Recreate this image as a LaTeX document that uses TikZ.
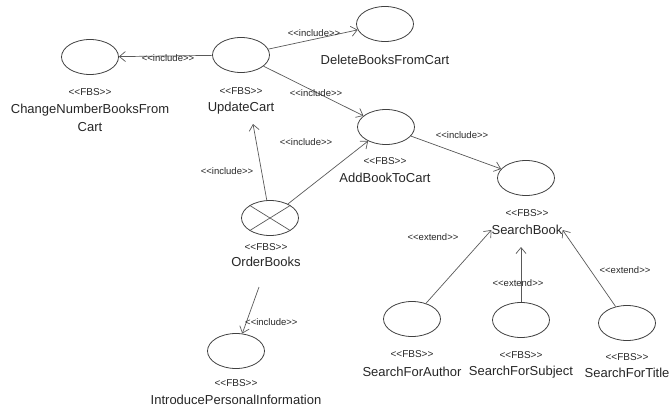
\documentclass[tikz,border=0pt]{standalone}
\usepackage{fontspec}
\setmainfont{Liberation Sans}
\usetikzlibrary{arrows.meta,shapes.geometric}
\newcommand\gl{<\kern0pt<}
\newcommand\gr{>\kern0pt>}
\begin{document}
\begin{tikzpicture}[x=1pt,y=-1pt,
  uc/.style={draw=black!75, line width=0.8pt, ellipse, minimum width=57pt, minimum height=35pt, inner sep=0pt},
  ster/.style={font=\fontsize{10}{11}\selectfont, text=black!85, inner sep=0pt},
  ucname/.style={font=\fontsize{13}{18}\selectfont, text=black!85, inner sep=0pt, align=center},
  rel/.style={draw=black!65, line width=0.7pt, -{Straight Barb[length=6pt,width=10pt]}},
  lab/.style={font=\fontsize{9.5}{10}\selectfont, text=black!85, inner sep=0pt}]
\useasboundingbox (0,0) rectangle (669,412);

% use cases
\node[uc] (cn)  at (90,57) {};
\node[uc] (upd) at (241,55) {};
\node[uc] (del) at (385,24) {};
\node[uc] (add) at (386,127) {};
\node[uc] (sb)  at (526,178) {};
\node[uc] (ob)  at (270,218) {};
\node[uc] (ipi) at (236,351) {};
\node[uc] (sfa) at (412,319) {};
\node[uc] (sfs) at (521,320) {};
\node[uc] (sft) at (627,323) {};
\draw[draw=black!65, line width=0.7pt] (ob.north west) -- (ob.south east) (ob.north east) -- (ob.south west);

% texts
\node[ster]   (cnS)  at (90,92)  {\gl FBS\gr};
\node[ucname] (cnN)  at (90,118) {ChangeNumberBooksFrom\\Cart};
\node[ster]   (updS) at (241,91) {\gl FBS\gr};
\node[ucname] (updN) at (241,108) {UpdateCart};
\node[ucname] (delN) at (385,60) {DeleteBooksFromCart};
\node[ster]   (addS) at (385,161) {\gl FBS\gr};
\node[ucname] (addN) at (385,178) {AddBookToCart};
\node[ster]   (sbS)  at (527,213) {\gl FBS\gr};
\node[ucname] (sbN)  at (527,230) {SearchBook};
\node[ster]   (obS)  at (266,247) {\gl FBS\gr};
\node[ucname] (obN)  at (266,262) {OrderBooks};
\node[ster]   (ipiS) at (236,383) {\gl FBS\gr};
\node[ucname] (ipiN) at (236,400) {IntroducePersonalInformation};
\node[ster]   (sfaS) at (412,354) {\gl FBS\gr};
\node[ucname] (sfaN) at (412,372) {SearchForAuthor};
\node[ster]   (sfsS) at (521,355) {\gl FBS\gr};
\node[ucname] (sfsN) at (521,372) {SearchForSubject};
\node[ster]   (sftS) at (627,357) {\gl FBS\gr};
\node[ucname] (sftN) at (627,373) {SearchForTitle};

% connector ends
\coordinate (updIn) at (253,124);
\coordinate (obOut) at (259,287);
\coordinate (sbIn)  at (521,247);

% connectors
\draw[rel] (upd) -- (cn);
\node[lab] (l1) at (168,58) {\gl include\gr};
\draw[rel] (upd) -- (del);
\node[lab] (l2) at (314,33) {\gl include\gr};
\draw[rel] (upd) -- (add);
\node[lab] (l3) at (316,93) {\gl include\gr};
\draw[rel] (ob) -- (updIn);
\node[lab] (l4) at (227,171) {\gl include\gr};
\draw[rel] (ob) -- (add);
\node[lab] (l5) at (306,142) {\gl include\gr};
\draw[rel] (add) -- (sb);
\node[lab] (l6) at (462,135) {\gl include\gr};
\draw[rel] (obOut) -- (ipi);
\node[lab, anchor=west] (l7) at (245,322) {\gl include\gr};
\draw[rel] (sfa) -- (sbN.west);
\node[lab] (l8) at (433,237) {\gl extend\gr};
\draw[rel] (sfs) -- (sbIn);
\node[lab] (l9) at (518,283) {\gl extend\gr};
\draw[rel] (sft) -- (sbN.east);
\node[lab] (l10) at (625,270) {\gl extend\gr};
\end{tikzpicture}
\end{document}
